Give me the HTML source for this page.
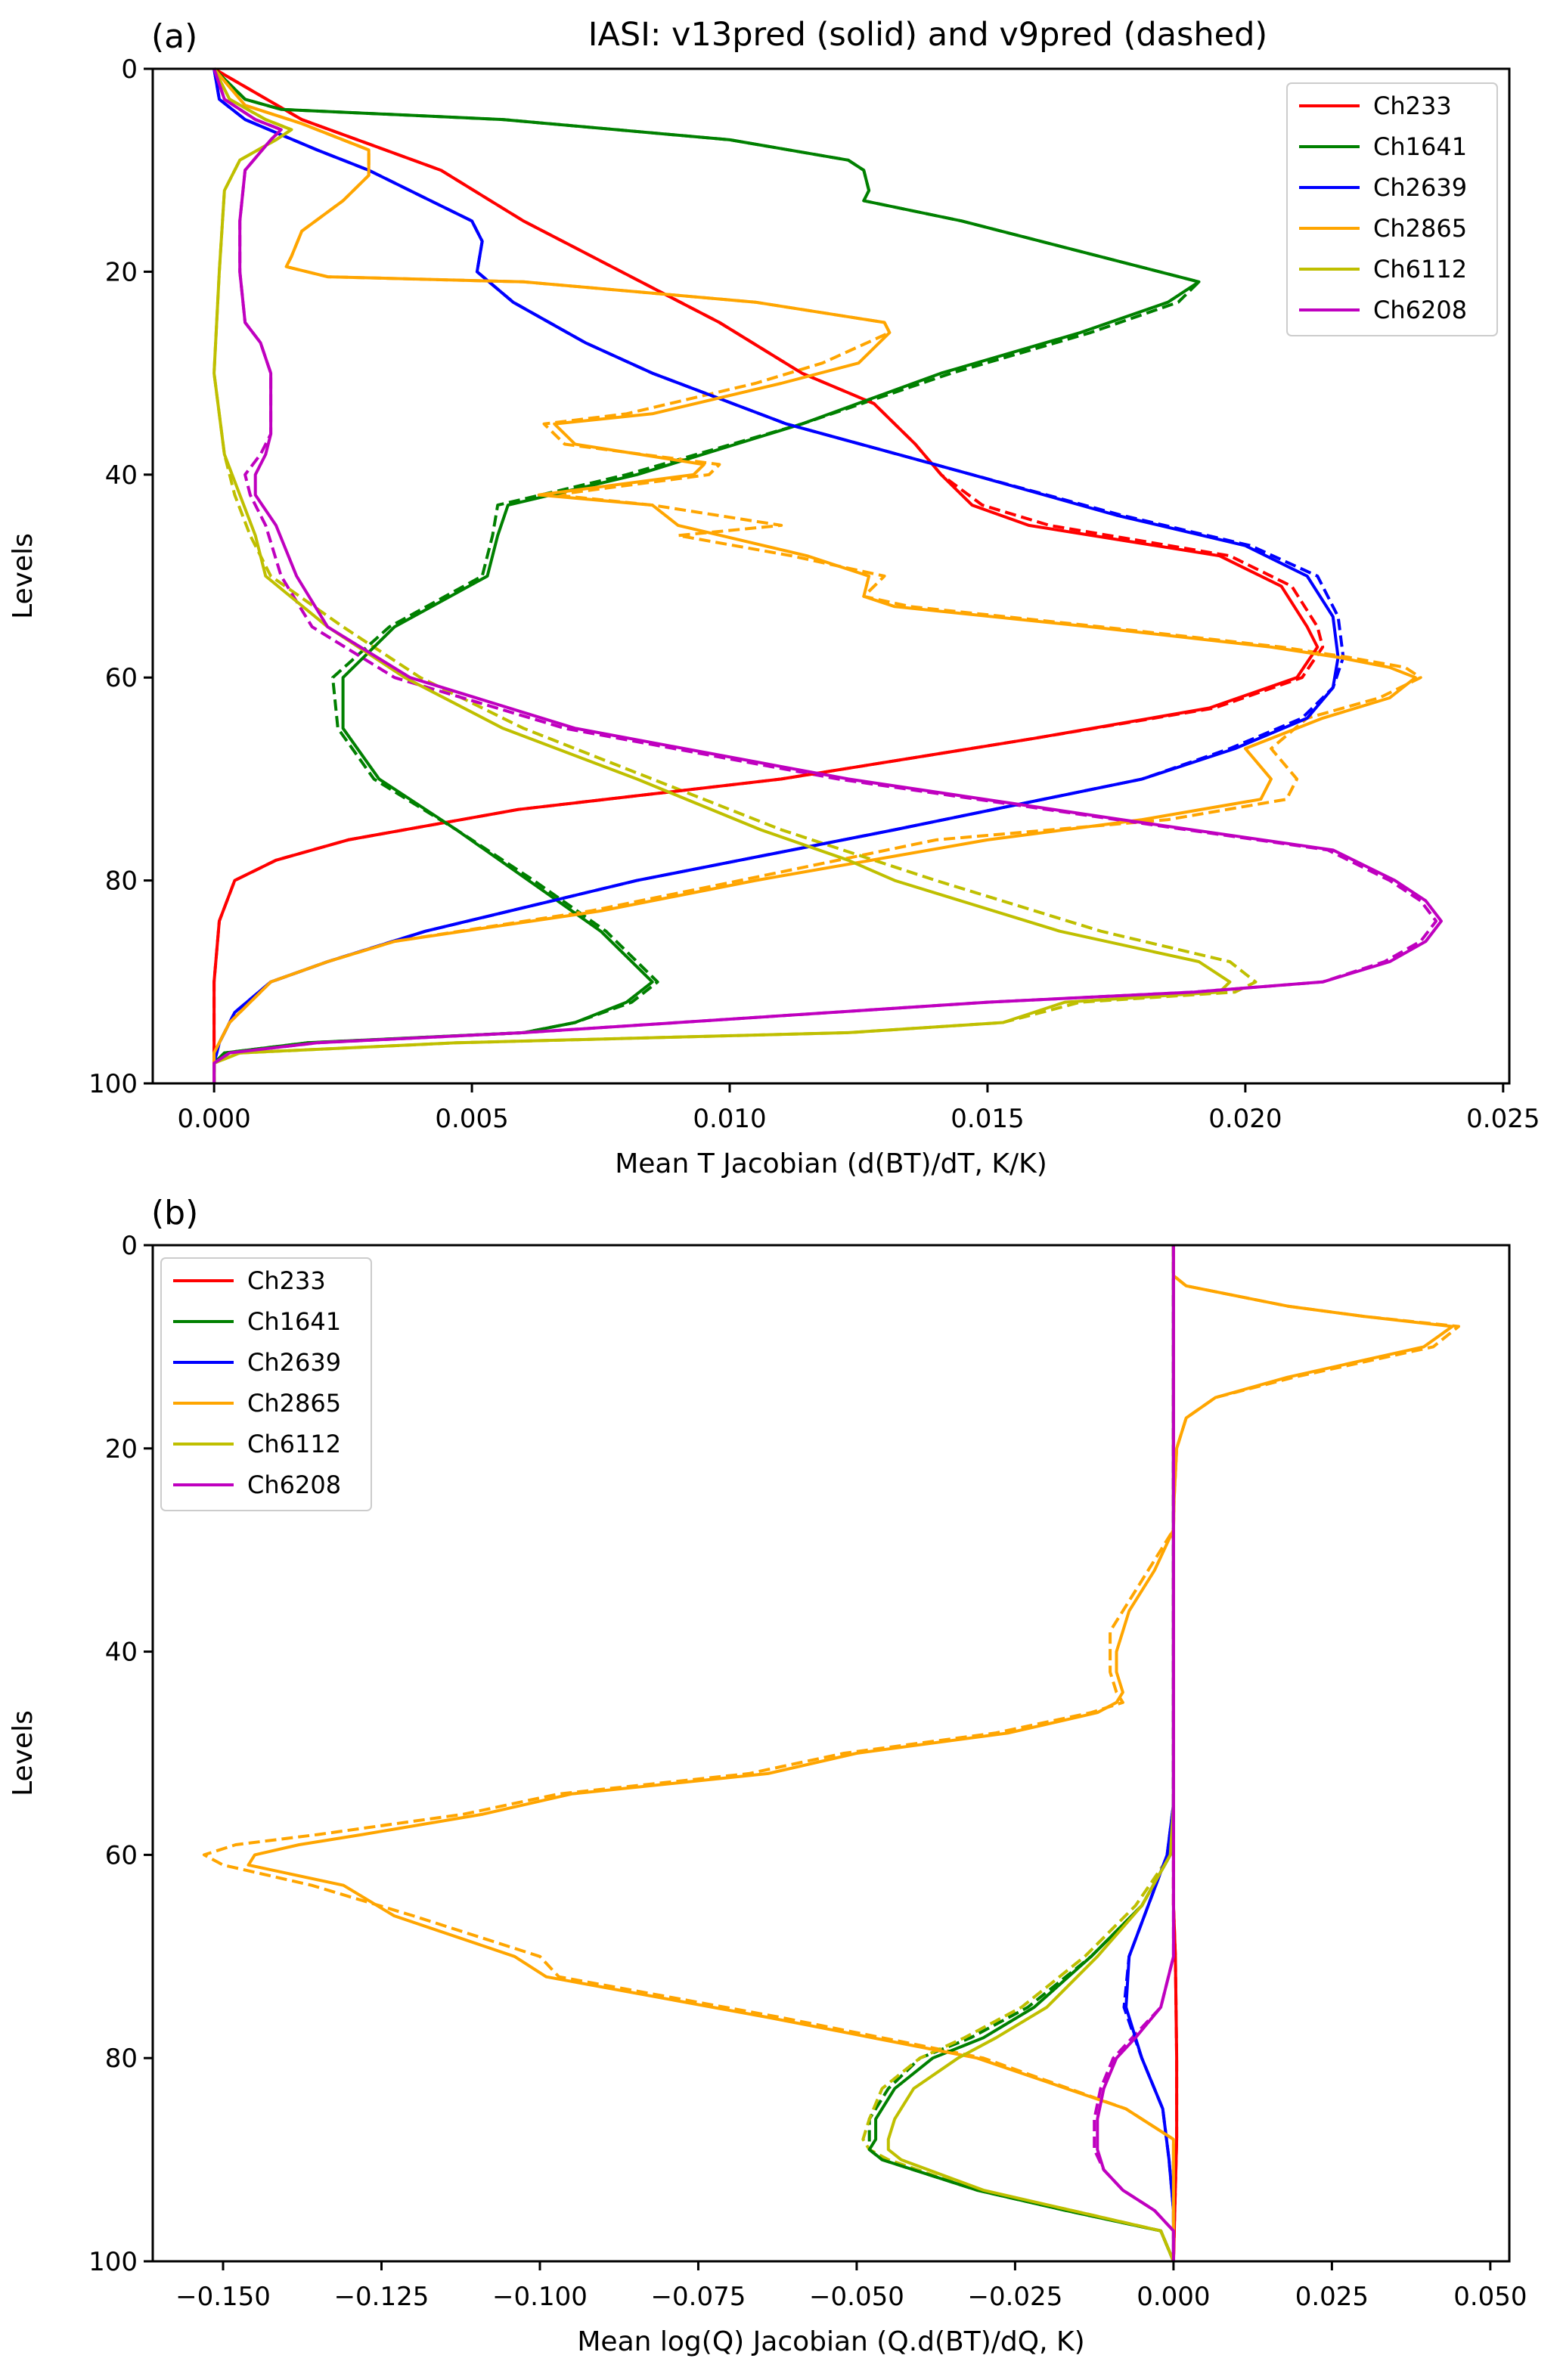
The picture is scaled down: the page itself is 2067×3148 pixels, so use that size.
<!DOCTYPE html>
<html><head><meta charset="utf-8"><style>
html,body{margin:0;padding:0;background:#fff;}
svg{display:block;font-family:"DejaVu Sans","Liberation Sans",sans-serif;}
</style></head><body>
<svg id="chart" width="2067" height="3148" viewBox="0 0 2067 3148" xmlns="http://www.w3.org/2000/svg"></svg>
<script>
// ---------- data: panel (a) T Jacobians [level, value] ----------
const chNames = ["Ch233","Ch1641","Ch2639","Ch2865","Ch6112","Ch6208"];
const chColors = ["#ff0000","#008000","#0000ff","#ffa500","#bfbf00","#bf00bf"];
const yTicks = [0,20,40,60,80,100];
const xTicksA = [0.000,0.005,0.010,0.015,0.020,0.025];
const xTickLabelsA = ["0.000","0.005","0.010","0.015","0.020","0.025"];
const xTicksB = [-0.150,-0.125,-0.100,-0.075,-0.050,-0.025,0.000,0.025,0.050];
const xTickLabelsB = ["\u22120.150","\u22120.125","\u22120.100","\u22120.075","\u22120.050","\u22120.025","0.000","0.025","0.050"];

const aCh233 = [[0,0],[5,0.0017],[10,0.0044],[15,0.006],[20,0.0079],[25,0.0098],[30,0.0114],[33,0.0128],[37,0.0136],[40,0.0141],[43,0.0147],[45,0.0158],[48,0.0195],[51,0.0207],[55,0.0212],[57,0.0214],[60,0.0210],[63,0.0193],[66,0.0159],[70,0.011],[73,0.0059],[76,0.0026],[78,0.0012],[80,0.0004],[84,0.0001],[90,0],[100,0]];
const aCh1641 = [[0,0],[3,0.0006],[4,0.0013],[5,0.0056],[7,0.01],[9,0.0123],[10,0.0126],[12,0.0127],[13,0.0126],[15,0.0145],[18,0.0168],[21,0.0191],[23,0.0185],[26,0.0168],[30,0.0141],[35,0.0114],[40,0.0082],[43,0.0057],[46,0.0055],[50,0.0053],[55,0.0035],[60,0.0025],[65,0.0025],[70,0.0032],[75,0.0047],[80,0.0061],[85,0.0075],[90,0.0085],[92,0.008],[94,0.007],[95,0.006],[96,0.0018],[97,0.0002],[98,0],[100,0]];
const aCh2639 = [[0,0],[3,0.0001],[5,0.0006],[8,0.002],[10,0.003],[13,0.0042],[15,0.005],[17,0.0052],[20,0.0051],[23,0.0058],[27,0.0072],[30,0.0085],[35,0.0111],[40,0.0147],[44,0.0175],[47,0.02],[50,0.0212],[54,0.0217],[58,0.0218],[61,0.0217],[64,0.0212],[67,0.0198],[70,0.018],[75,0.0132],[80,0.0082],[85,0.0041],[88,0.0022],[90,0.0011],[93,0.0004],[96,0.0001],[98,0],[100,0]];
const aCh2865 = [[0,0],[3.6,0.0006],[5.4,0.0017],[8,0.003],[10.5,0.003],[13,0.0025],[16,0.0017],[18.5,0.0015],[19.5,0.0014],[20.5,0.0022],[21,0.006],[23,0.0105],[25,0.013],[26,0.0131],[29,0.0125],[31,0.011],[34,0.0085],[35,0.0066],[37,0.007],[39,0.0095],[40,0.0093],[42,0.0063],[43,0.0085],[45,0.009],[48,0.0115],[50,0.0127],[52,0.0126],[53,0.0132],[55,0.017],[57,0.0205],[58,0.0218],[59,0.0228],[60,0.0233],[62,0.0228],[64,0.0215],[67,0.02],[70,0.0205],[72,0.0203],[74,0.018],[76,0.015],[80,0.0105],[83,0.0075],[86,0.0035],[88,0.0022],[90,0.0011],[94,0.0003],[97,0],[100,0]];
const aCh6112 = [[0,0],[3,0.0003],[5,0.001],[6,0.0015],[7,0.0012],[9,0.0005],[12,0.0002],[20,0.0001],[30,0],[38,0.0002],[42,0.0005],[46,0.0008],[50,0.001],[55,0.0022],[60,0.0037],[65,0.0056],[70,0.0082],[75,0.0106],[78,0.0123],[80,0.0132],[85,0.0164],[88,0.0191],[90,0.0197],[91,0.0195],[92,0.0165],[94,0.0153],[95,0.0123],[96,0.0047],[97,0.0005],[98,0],[100,0]];
const aCh6208 = [[0,0],[3,0.0002],[5,0.0008],[6,0.0013],[7,0.0011],[10,0.0006],[15,0.0005],[20,0.0005],[25,0.0006],[27,0.0009],[30,0.0011],[33,0.0011],[36,0.0011],[38,0.001],[40,0.0008],[42,0.0008],[45,0.0012],[50,0.0016],[55,0.0022],[60,0.0038],[65,0.007],[70,0.0123],[74,0.0176],[77,0.0217],[80,0.0229],[82,0.0235],[84,0.0238],[86,0.0235],[88,0.0228],[90,0.0215],[91,0.019],[92,0.015],[94,0.009],[95,0.006],[96,0.002],[97,0.0003],[98,0],[100,0]];

const aCh233d = [[0,0],[5,0.0017],[10,0.0044],[15,0.006],[20,0.0079],[25,0.0098],[30,0.0114],[33,0.0128],[37,0.0136],[40,0.0141],[43,0.0149],[45,0.0162],[48,0.0197],[51,0.0209],[55,0.0214],[57,0.0215],[60,0.0211],[63,0.0194],[66,0.0159],[70,0.011],[73,0.0059],[76,0.0026],[78,0.0012],[80,0.0004],[84,0.0001],[90,0],[100,0]];
const aCh1641d = [[0,0],[3,0.0006],[4,0.0013],[5,0.0056],[7,0.01],[9,0.0123],[10,0.0126],[12,0.0127],[13,0.0126],[15,0.0145],[18,0.0168],[21,0.0191],[23,0.0187],[26,0.017],[30,0.0143],[35,0.0114],[40,0.008],[43,0.0055],[46,0.0054],[50,0.0052],[55,0.0034],[60,0.0023],[65,0.0024],[70,0.0031],[75,0.0047],[80,0.0062],[85,0.0076],[90,0.0086],[92,0.0081],[94,0.007],[95,0.006],[96,0.0018],[97,0.0002],[98,0],[100,0]];
const aCh2639d = [[0,0],[3,0.0001],[5,0.0006],[8,0.002],[10,0.003],[13,0.0042],[15,0.005],[17,0.0052],[20,0.0051],[23,0.0058],[27,0.0072],[30,0.0085],[35,0.0111],[40,0.0147],[44,0.0176],[47,0.0201],[50,0.0214],[54,0.0218],[58,0.0219],[61,0.0217],[64,0.0211],[67,0.0197],[70,0.018],[75,0.0132],[80,0.0082],[85,0.0041],[88,0.0022],[90,0.0011],[93,0.0004],[96,0.0001],[98,0],[100,0]];
const aCh2865d = [[0,0],[3.6,0.0006],[5.4,0.0017],[8,0.003],[10.5,0.003],[13,0.0025],[16,0.0017],[18.5,0.0015],[19.5,0.0014],[20.5,0.0022],[21,0.006],[23,0.0105],[25,0.013],[26,0.0131],[29,0.0118],[31,0.0105],[34,0.008],[35,0.0064],[37,0.0068],[39,0.0098],[40,0.0096],[42,0.0066],[43,0.0085],[45,0.011],[46,0.009],[48,0.0112],[50,0.013],[52,0.0126],[53,0.0135],[55,0.0172],[57,0.0207],[58,0.022],[59,0.0231],[60,0.0234],[62,0.0226],[64,0.0212],[67,0.0205],[70,0.021],[72,0.0208],[74,0.0185],[76,0.0140],[80,0.0102],[83,0.0073],[86,0.0035],[88,0.0022],[90,0.0011],[94,0.0003],[97,0],[100,0]];
const aCh6112d = [[0,0],[3,0.0003],[5,0.001],[6,0.0015],[7,0.0012],[9,0.0005],[12,0.0002],[20,0.0001],[30,0],[38,0.0002],[42,0.0004],[46,0.0007],[50,0.0011],[55,0.0025],[60,0.0040],[65,0.006],[70,0.0085],[75,0.011],[78,0.0128],[80,0.014],[85,0.0172],[88,0.0197],[90,0.0202],[91,0.0198],[92,0.0168],[94,0.0153],[95,0.0123],[96,0.0047],[97,0.0005],[98,0],[100,0]];
const aCh6208d = [[0,0],[3,0.0002],[5,0.0008],[6,0.0013],[7,0.0011],[10,0.0006],[15,0.0005],[20,0.0005],[25,0.0006],[27,0.0009],[30,0.0011],[33,0.0011],[36,0.0011],[38,0.0009],[40,0.0006],[42,0.0007],[45,0.001],[50,0.0013],[55,0.0019],[60,0.0035],[65,0.0068],[70,0.0121],[74,0.0175],[77,0.0216],[80,0.0228],[82,0.0234],[84,0.0237],[86,0.0234],[88,0.0227],[90,0.0215],[91,0.019],[92,0.015],[94,0.009],[95,0.006],[96,0.002],[97,0.0003],[98,0],[100,0]];

// ---------- data: panel (b) log(Q) Jacobians ----------
const bCh233 = [[0,0],[65,0],[70,0.0003],[80,0.0005],[88,0.0005],[95,0.0002],[100,0]];
const bCh1641 = [[0,0],[55,0],[60,-0.0005],[65,-0.005],[70,-0.013],[75,-0.022],[78,-0.03],[80,-0.038],[83,-0.044],[86,-0.047],[88,-0.047],[89,-0.048],[90,-0.046],[93,-0.031],[95,-0.017],[97,-0.002],[100,0]];
const bCh2639 = [[0,0],[55,0],[60,-0.001],[65,-0.004],[70,-0.007],[75,-0.0075],[80,-0.005],[85,-0.0017],[90,-0.0007],[95,0],[100,0]];
const bCh2865 = [[0,0],[3,0],[4,0.002],[6,0.018],[7,0.03],[8,0.044],[10,0.0395],[13,0.018],[15,0.0066],[17,0.002],[20,0.0005],[25,0.0001],[28,0],[32,-0.003],[36,-0.007],[38,-0.008],[40,-0.009],[42,-0.009],[44,-0.008],[45,-0.009],[46,-0.012],[48,-0.026],[50,-0.05],[52,-0.064],[54,-0.095],[56,-0.109],[58,-0.128],[59,-0.138],[60,-0.145],[61,-0.146],[63,-0.131],[66,-0.123],[70,-0.104],[72,-0.099],[76,-0.064],[80,-0.031],[85,-0.0075],[88,0],[95,0],[100,0]];
const bCh6112 = [[0,0],[55,0],[60,-0.0005],[65,-0.005],[70,-0.012],[75,-0.02],[78,-0.028],[80,-0.034],[83,-0.041],[86,-0.044],[88,-0.045],[89,-0.045],[90,-0.043],[93,-0.03],[95,-0.016],[97,-0.002],[100,0]];
const bCh6208 = [[0,0],[70,0],[75,-0.002],[78,-0.006],[80,-0.009],[83,-0.011],[86,-0.012],[89,-0.012],[91,-0.011],[93,-0.008],[95,-0.003],[97,0],[100,0]];

const bCh233d = [[0,0],[65,0],[70,0.0003],[80,0.0005],[88,0.0005],[95,0.0002],[100,0]];
const bCh1641d = [[0,0],[55,0],[60,-0.0005],[65,-0.005],[70,-0.013],[75,-0.023],[78,-0.032],[80,-0.04],[83,-0.045],[86,-0.048],[88,-0.048],[89,-0.048],[90,-0.046],[93,-0.031],[95,-0.017],[97,-0.002],[100,0]];
const bCh2639d = [[0,0],[55,0],[60,-0.001],[65,-0.004],[70,-0.007],[75,-0.0078],[80,-0.005],[85,-0.0017],[90,-0.0007],[95,0],[100,0]];
const bCh2865d = [[0,0],[3,0],[4,0.002],[6,0.018],[7,0.03],[8,0.045],[10,0.041],[13,0.019],[15,0.0066],[17,0.002],[20,0.0005],[25,0.0001],[28,0],[32,-0.004],[36,-0.008],[38,-0.01],[40,-0.01],[42,-0.01],[44,-0.009],[45,-0.008],[46,-0.013],[48,-0.028],[50,-0.052],[52,-0.067],[54,-0.097],[56,-0.112],[58,-0.135],[59,-0.148],[60,-0.153],[61,-0.15],[63,-0.136],[66,-0.12],[70,-0.1],[72,-0.097],[76,-0.062],[80,-0.03],[85,-0.0075],[88,0],[95,0],[100,0]];
const bCh6112d = [[0,0],[55,0],[60,-0.0005],[65,-0.006],[70,-0.014],[75,-0.024],[78,-0.033],[80,-0.04],[83,-0.046],[86,-0.048],[88,-0.049],[89,-0.048],[90,-0.045],[93,-0.031],[95,-0.016],[97,-0.002],[100,0]];
const bCh6208d = [[0,0],[70,0],[75,-0.002],[78,-0.0065],[80,-0.0095],[83,-0.0115],[86,-0.0125],[89,-0.0125],[91,-0.011],[93,-0.008],[95,-0.003],[97,0],[100,0]];

const seriesA = [aCh233,aCh1641,aCh2639,aCh2865,aCh6112,aCh6208];
const seriesAd = [aCh233d,aCh1641d,aCh2639d,aCh2865d,aCh6112d,aCh6208d];
const seriesB = [bCh233,bCh1641,bCh2639,bCh2865,bCh6112,bCh6208];
const seriesBd = [bCh233d,bCh1641d,bCh2639d,bCh2865d,bCh6112d,bCh6208d];

// ---------- drawing ----------
const NS = "http://www.w3.org/2000/svg";
const svg = document.getElementById("chart");
function mk(tag, attrs, parent){
  const e = document.createElementNS(NS, tag);
  for (const k in attrs) e.setAttribute(k, attrs[k]);
  (parent||svg).appendChild(e);
  return e;
}
function panel(cfg){
  const g = mk("g", {});
  
  
  const sx = v => cfg.L + (v - cfg.xmin)/(cfg.xmax - cfg.xmin)*(cfg.R - cfg.L);
  const sy = l => cfg.T + l/100*(cfg.B - cfg.T);
  // series
  const draw = (arrs, dashed) => arrs.forEach((arr, i) => {
    const p = mk("polyline", {points: arr.map(d => sx(d[1]).toFixed(1)+","+sy(d[0]).toFixed(1)).join(" "),
      fill:"none", stroke: chColors[i], "stroke-width": 4, "stroke-linejoin":"round"}, g);
    if (dashed) p.setAttribute("stroke-dasharray","15,7");
    
    
  });
  draw(cfg.dashed, true);
  draw(cfg.solid, false);
  // frame
  const fr = mk("rect", {x:cfg.L, y:cfg.T, width:cfg.R-cfg.L, height:cfg.B-cfg.T, fill:"none", stroke:"#000", "stroke-width":3}, g);
  
  
  // y ticks
  yTicks.forEach(t => {
    mk("line", {x1:cfg.L-12, x2:cfg.L, y1:sy(t), y2:sy(t), stroke:"#000", "stroke-width":3}, g);
    const tx = mk("text", {x:cfg.L-20, y:sy(t)+12, "text-anchor":"end", "font-size":34}, g);
    tx.textContent = String(t);
    
    
  });
  cfg.xt.forEach((t, i) => {
    mk("line", {x1:sx(t), x2:sx(t), y1:cfg.B, y2:cfg.B+12, stroke:"#000", "stroke-width":3}, g);
    const tx = mk("text", {x:sx(t), y:cfg.B+58, "text-anchor":"middle", "font-size":34}, g);
    tx.textContent = cfg.xl[i];
    
    
  });
  const xlab = mk("text", {x:(cfg.L+cfg.R)/2, y:cfg.B+118, "text-anchor":"middle", "font-size":36}, g);
  xlab.textContent = cfg.xlabel;
  
  
  const cy = (cfg.T+cfg.B)/2;
  const ylab = mk("text", {x:42, y:cy, "text-anchor":"middle", "font-size":36, transform:"rotate(-90 42 "+cy+")"}, g);
  ylab.textContent = "Levels";
  
  
  const pl = mk("text", {x:cfg.L-2, y:cfg.T-28, "font-size":44}, g);
  pl.textContent = cfg.label;
  
  
  // legend
  const lg = mk("g", {}, g);
  
  
  mk("rect", {x:cfg.lx, y:cfg.ly, width:278, height:334, rx:6, fill:"#fff", "fill-opacity":0.85, stroke:"#ccc", "stroke-width":2}, lg);
  chNames.forEach((n, i) => {
    const yy = cfg.ly + 30 + i*54;
    const ln = mk("line", {x1:cfg.lx+16, x2:cfg.lx+96, y1:yy, y2:yy, stroke:chColors[i], "stroke-width":4}, lg);
    
    
    const t = mk("text", {x:cfg.lx+114, y:yy+11, "font-size":32}, lg);
    t.textContent = n;
    
    
  });
}
panel({name:"panel-a-temperature", L:202, R:1996, T:91, B:1433, xmin:-0.00119, xmax:0.02512,
  solid:seriesA, dashed:seriesAd, xt:xTicksA, xl:xTickLabelsA,
  xlabel:"Mean T Jacobian (d(BT)/dT, K/K)", label:"(a)", lx:1702, ly:110});
panel({name:"panel-b-humidity", L:202, R:1996, T:1647, B:2991, xmin:-0.1611, xmax:0.053,
  solid:seriesB, dashed:seriesBd, xt:xTicksB, xl:xTickLabelsB,
  xlabel:"Mean log(Q) Jacobian (Q.d(BT)/dQ, K)", label:"(b)", lx:213, ly:1664});
const title = mk("text", {x:1227, y:60, "text-anchor":"middle", "font-size":43});
title.textContent = "IASI: v13pred (solid) and v9pred (dashed)";


</script>
</body></html>
